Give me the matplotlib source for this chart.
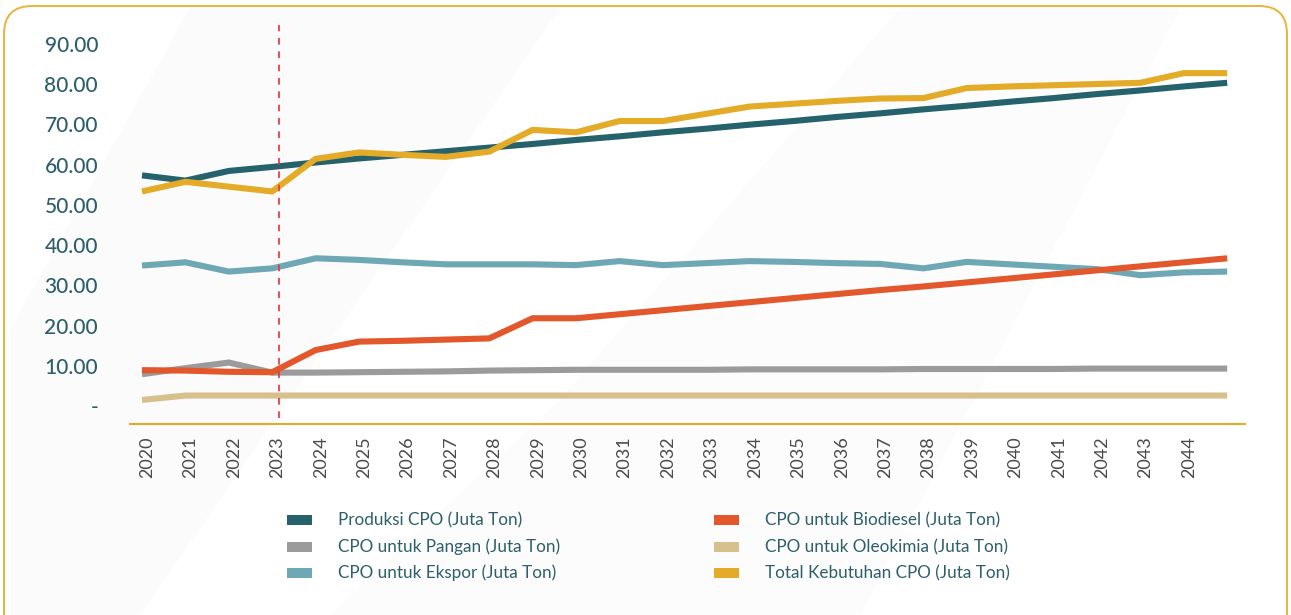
import matplotlib
matplotlib.use("Agg")
import matplotlib.pyplot as plt
from matplotlib.patches import FancyBboxPatch, Polygon, Rectangle
import numpy as np

years = list(range(2020, 2046))
tick_years = [str(y) for y in range(2020, 2045)]
y_ticks = [0, 10, 20, 30, 40, 50, 60, 70, 80, 90]
y_tick_labels = ["-", "10.00", "20.00", "30.00", "40.00", "50.00", "60.00", "70.00", "80.00", "90.00"]

produksi = [57.3, 56.0, 58.4, 59.4, 60.5, 61.5, 62.4, 63.3, 64.2, 65.1, 66.1, 67.0, 68.0,
            68.9, 69.9, 70.8, 71.8, 72.7, 73.7, 74.6, 75.6, 76.5, 77.5, 78.4, 79.4, 80.3]
biodiesel = [8.9, 8.8, 8.5, 8.4, 13.9, 16.0, 16.2, 16.5, 16.8, 21.8, 21.8, 22.8, 23.8,
             24.8, 25.8, 26.8, 27.8, 28.8, 29.7, 30.7, 31.7, 32.7, 33.7, 34.7, 35.7, 36.7]
pangan = [7.9, 9.4, 10.8, 8.3, 8.3, 8.4, 8.5, 8.6, 8.8, 8.9, 9.0, 9.0, 9.0,
          9.0, 9.1, 9.1, 9.1, 9.1, 9.2, 9.2, 9.2, 9.2, 9.3, 9.3, 9.3, 9.3]
oleokimia = [1.5, 2.6, 2.6, 2.6, 2.6, 2.6, 2.6, 2.6, 2.6, 2.6, 2.6, 2.6, 2.6,
             2.6, 2.6, 2.6, 2.6, 2.6, 2.6, 2.6, 2.6, 2.6, 2.6, 2.6, 2.6, 2.6]
ekspor = [34.9, 35.7, 33.4, 34.2, 36.7, 36.3, 35.7, 35.2, 35.2, 35.2, 35.0, 36.0, 35.0,
          35.5, 36.0, 35.8, 35.5, 35.3, 34.2, 35.8, 35.2, 34.6, 34.0, 32.5, 33.2, 33.4]
total = [53.3, 55.7, 54.5, 53.3, 61.4, 63.0, 62.4, 61.9, 63.2, 68.6, 68.0, 70.8, 70.8,
         72.6, 74.4, 75.1, 75.8, 76.4, 76.5, 79.0, 79.4, 79.7, 80.0, 80.3, 82.7, 82.7]

series = [
    ("Produksi CPO (Juta Ton)", produksi, "#25626B"),
    ("CPO untuk Biodiesel (Juta Ton)", biodiesel, "#E2572B"),
    ("CPO untuk Pangan (Juta Ton)", pangan, "#9B9B9B"),
    ("CPO untuk Oleokimia (Juta Ton)", oleokimia, "#D8C08E"),
    ("CPO untuk Ekspor (Juta Ton)", ekspor, "#6FA8B5"),
    ("Total Kebutuhan CPO (Juta Ton)", total, "#E3AB27"),
]
draw_order = [4, 2, 3, 1, 0, 5]
legend_order = [0, 2, 4, 1, 3, 5]

plt.rcParams['font.family'] = ['Lato', 'DejaVu Sans']
W, H = 1291, 615
fig = plt.figure(figsize=(W / 100, H / 100), dpi=100)
fig.patch.set_facecolor("white")

# faint background bands
bg = fig.add_axes([0, 0, 1, 1], zorder=-5)
bg.set_xlim(0, W); bg.set_ylim(H, 0); bg.axis("off")
bg.add_patch(Polygon([(10, 615), (10, 330), (190, 8), (560, 8), (140, 615)],
                     closed=True, fc="#FBFBFB", ec="none"))
bg.add_patch(Polygon([(330, 615), (560, 400), (900, 8), (1180, 8), (860, 615)],
                     closed=True, fc="#FCFCFC", ec="none"))
bg.add_patch(FancyBboxPatch((4, 6), W - 8, H + 40, boxstyle="round,pad=0,rounding_size=28",
                            fc="none", ec="#E8B33A", lw=1.4))

ax = fig.add_axes([130 / W, (H - 424) / H, 1115 / W, 399 / H])
ax.patch.set_alpha(0)
x = np.arange(len(years))
for i in draw_order:
    name, vals, col = series[i]
    ax.plot(x, vals, color=col, lw=4.4, solid_joinstyle="miter", solid_capstyle="butt")

ax.set_xlim(-0.276, 25.41)
ax.set_ylim(-4.47, 94.66)
ax.axvline(3.16, ymin=0.015, ymax=1.0, color="#E8323C", lw=1.2, ls=(0, (4, 4)))

for s in ["top", "right", "left"]:
    ax.spines[s].set_visible(False)
ax.spines["bottom"].set_color("#E3AB27")
ax.spines["bottom"].set_linewidth(1.5)

ax.set_yticks(y_ticks)
ax.set_yticklabels(y_tick_labels, fontsize=15, color="#2C5F6B", fontweight="medium")
ax.tick_params(axis="y", length=0, pad=23)
ax.set_xticks(np.arange(len(tick_years)) + 0.12)
ax.set_xticklabels(tick_years, rotation=90, fontsize=13, color="#4A4A4A")
ax.tick_params(axis="x", length=0, pad=9)

# legend
col_x = [287, 714]
row_y = [520, 547, 573]
for k, idx in enumerate(legend_order):
    name, vals, col = series[idx]
    cx = col_x[k // 3]
    cy = row_y[k % 3]
    bg.add_patch(Rectangle((cx, cy - 5), 25, 10, fc=col, ec="none"))
    bg.text(cx + 51, cy, name, fontsize=12.3, color="#2C5F6B", va="center", ha="left")

fig.savefig("out.png", dpi=100)
